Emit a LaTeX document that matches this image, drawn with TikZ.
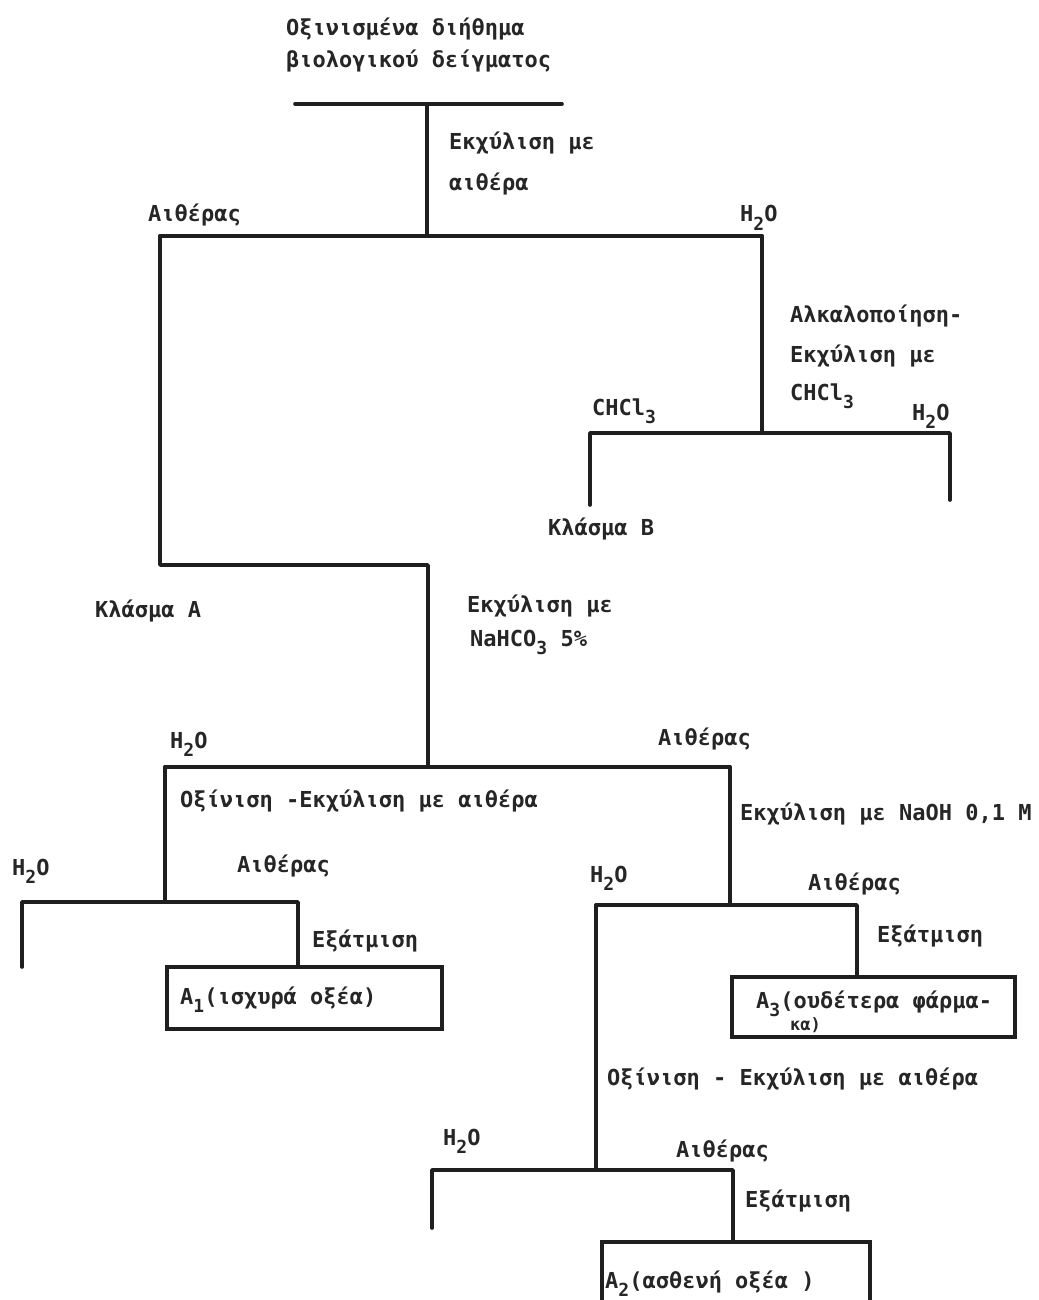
\documentclass[tikz,border=0pt]{standalone}
\usepackage{fontspec}
\setmainfont{DejaVu Sans Mono}
\newcommand\lowsub[1]{\raisebox{-0.38em}{\fontsize{18}{18}\selectfont #1}}
\begin{document}
\begin{tikzpicture}[x=1pt,y=-1pt,
  lbl/.style={anchor=base west,inner sep=0pt,font=\fontsize{22}{26}\selectfont\bfseries,text=black!85},
  bar/.style={line width=3.6pt,line cap=round,line join=round,draw=black!88},
  boxs/.style={line width=3.6pt,draw=black!88}]
\useasboundingbox[fill=white] (0,0) rectangle (1038,1300);
\clip (0,0) rectangle (1038,1300);
% ---------- coordinates ----------
\coordinate (t0l) at (295,104); \coordinate (t0r) at (562,104); \coordinate (t0) at (427,104);
\coordinate (b1) at (427,236); \coordinate (b1l) at (160,236); \coordinate (b1r) at (762,236);
\coordinate (lA) at (160,565); \coordinate (lB) at (428,565); \coordinate (b3) at (428,767);
\coordinate (b2) at (762,433); \coordinate (b2l) at (590,433); \coordinate (b2r) at (950,433);
\coordinate (b2le) at (590,505); \coordinate (b2re) at (950,500);
\coordinate (b3l) at (165,767); \coordinate (b3r) at (730,767);
\coordinate (b4) at (165,902); \coordinate (b4l) at (22,902); \coordinate (b4r) at (298,902);
\coordinate (b4le) at (22,967);
\coordinate (b5) at (730,905); \coordinate (b5l) at (596,905); \coordinate (b5r) at (857,905);
\coordinate (b6) at (596,1170); \coordinate (b6l) at (432,1170); \coordinate (b6r) at (733,1170);
\coordinate (b6le) at (432,1228);
% ---------- boxes ----------
\node[boxs,anchor=north west,minimum width=275pt,minimum height=62pt,inner sep=0pt] (A1) at (165,965) {};
\node[boxs,anchor=north west,minimum width=283pt,minimum height=60pt,inner sep=0pt] (A3) at (730,975) {};
\node[boxs,anchor=north west,minimum width=268pt,minimum height=80pt,inner sep=0pt] (A2) at (600,1240) {};
% ---------- tree lines ----------
\draw[bar] (t0l) -- (t0r);
\draw[bar] (t0) -- (b1);
\draw[bar] (b1l) -- (b1r);
\draw[bar] (b1l) -- (lA) -- (lB) -- (b3);
\draw[bar] (b1r) -- (b2);
\draw[bar] (b2le) -- (b2l) -- (b2r) -- (b2re);
\draw[bar] (b3l) -- (b3r);
\draw[bar] (b3l) -- (b4);
\draw[bar] (b3r) -- (b5);
\draw[bar] (b4le) -- (b4l) -- (b4r) -- (b4r |- A1.north);
\draw[bar] (b5l) -- (b5r) -- (b5r |- A3.north);
\draw[bar] (b5l) -- (b6);
\draw[bar] (b6le) -- (b6l) -- (b6r) -- (b6r |- A2.north);
% ---------- labels ----------
\node[lbl] (title1) at (286,36) {Οξινισμένα διήθημα};
\node[lbl] (title2) at (286,68) {βιολογικού δείγματος};
\node[lbl] (e1a) at (449,150) {Εκχύλιση με};
\node[lbl] (e1b) at (449,190) {αιθέρα};
\node[lbl] (aith1) at (148,222) {Αιθέρας};
\node[lbl] (h1) at (740,222) {H\lowsub{2}O};
\node[lbl] (alk1) at (790,322) {Αλκαλοποίηση-};
\node[lbl] (alk2) at (790,362) {Εκχύλιση με};
\node[lbl] (alk3) at (790,400) {CHCl\lowsub{3}};
\node[lbl] (chcl) at (592,415) {CHCl\lowsub{3}};
\node[lbl] (h2) at (912,420) {H\lowsub{2}O};
\node[lbl] (klB) at (548,535) {Κλάσμα Β};
\node[lbl] (klA) at (95,617) {Κλάσμα Α};
\node[lbl] (na1) at (467,612) {Εκχύλιση με};
\node[lbl] (na2) at (470,646) {NaHCO\lowsub{3} 5\%};
\node[lbl] (h3) at (170,748) {H\lowsub{2}O};
\node[lbl] (aith3) at (658,745) {Αιθέρας};
\node[lbl] (ox1) at (180,807) {Οξίνιση -Εκχύλιση με αιθέρα};
\node[lbl] (naoh) at (740,820) {Εκχύλιση με NaOH 0,1 M};
\node[lbl] (h4) at (12,875) {H\lowsub{2}O};
\node[lbl] (aith4) at (237,872) {Αιθέρας};
\node[lbl] (ex1) at (312,947) {Εξάτμιση};
\node[lbl] (A1t) at (180,1004) {A\lowsub{1}(ισχυρά οξέα)};
\node[lbl] (h5) at (590,882) {H\lowsub{2}O};
\node[lbl] (aith5) at (808,890) {Αιθέρας};
\node[lbl] (ex3) at (877,942) {Εξάτμιση};
\node[lbl] (A3t) at (756,1008) {A\lowsub{3}(ουδέτερα φάρμα-};
\node[lbl,font=\fontsize{17}{20}\selectfont\bfseries] (A3u) at (790,1030) {κα)};
\node[lbl] (ox2) at (607,1085) {Οξίνιση - Εκχύλιση με αιθέρα};
\node[lbl] (h6) at (443,1145) {H\lowsub{2}O};
\node[lbl] (aith6) at (676,1157) {Αιθέρας};
\node[lbl] (ex2) at (745,1207) {Εξάτμιση};
\node[lbl] (A2t) at (605,1288) {A\lowsub{2}(ασθενή οξέα )};
\end{tikzpicture}
\end{document}
